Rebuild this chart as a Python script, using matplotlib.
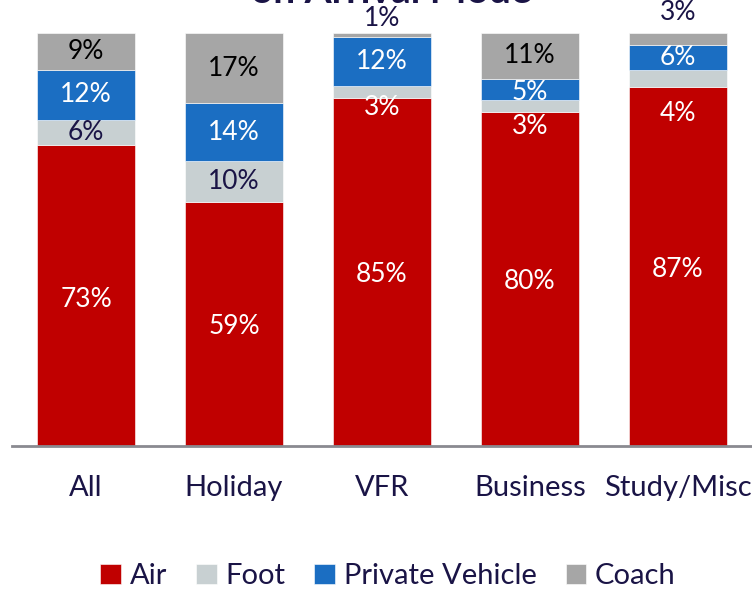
import numpy as np
import matplotlib.pyplot as plt

plt.rcParams['font.family'] = ['Lato', 'DejaVu Sans']

# -------- DATA --------
categories = ["All", "Holiday", "VFR", "Business", "Study/Misc"]
modes = ["Air", "Foot", "Private Vehicle", "Coach"]
air = [73, 59, 85, 80, 87]
foot = [6, 10, 3, 3, 4]
private_vehicle = [12, 14, 12, 5, 6]
coach = [9, 17, 1, 11, 3]

colors = ["#c00000", "#c8d0d2", "#1b6ec2", "#a6a6a6"]
navy = "#1a1446"

# label colour per segment (air, foot, pv, coach) for each category
label_colors = [
    ["white", navy, "white", "black"],
    ["white", navy, "white", "black"],
    ["white", "white", "white", navy],
    ["white", "white", "white", "black"],
    ["white", "white", "white", navy],
]
# small vertical nudges (points) for labels of thin segments
label_dy = [
    [-3, 0, 0, 0],
    [-2, 0, 0, 0],
    [-2, -11, 0, 12],
    [-2, -15, -2, 0],
    [-2, -25, 0, 19],
]

series = np.array([air, foot, private_vehicle, coach], dtype=float)
# each column drawn as a share of its own total so all bars reach the top
shares = series / series.sum(axis=0) * 100

fig = plt.figure(figsize=(7.52, 5.89), dpi=100)
ax = fig.add_axes([12 / 752, 1 - 446 / 589, 740 / 752, 413 / 589])

x = np.arange(len(categories))
bottom = np.zeros(len(categories))
for i, mode in enumerate(modes):
    ax.bar(x, shares[i], 0.66, bottom=bottom, color=colors[i], label=mode,
           edgecolor="white", linewidth=0.4)
    for j in range(len(categories)):
        yc = bottom[j] + shares[i][j] / 2
        ax.annotate(f"{int(series[i][j])}%", (x[j], yc),
                    xytext=(0, label_dy[j][i]), textcoords="offset points",
                    ha="center", va="center", fontsize=19,
                    color=label_colors[j][i], annotation_clip=False)
    bottom += shares[i]

ax.set_xlim(-0.5, 4.5)
ax.set_ylim(0, 100)
ax.set_yticks([])
ax.set_xticks(x)
ax.set_xticklabels(categories, fontsize=21, color=navy)
ax.tick_params(axis="x", length=0, pad=21)
for s in ["top", "right", "left"]:
    ax.spines[s].set_visible(False)
ax.spines["bottom"].set_color("#8a8a90")
ax.spines["bottom"].set_linewidth(2)

leg = fig.legend(loc="center", bbox_to_anchor=(0.516, 1 - 576 / 589), ncol=4,
                 frameon=False, fontsize=21, handlelength=0.7, handleheight=0.7,
                 handletextpad=0.3, columnspacing=1.0)
for t in leg.get_texts():
    t.set_color(navy)

# title mostly cut off at the top of the image
fig.text(0.52, 1 - 3 / 589, "on Arrival Mode", ha="center", va="baseline",
         fontsize=28, fontweight="bold", color=navy)

fig.savefig("out.png", dpi=100)
